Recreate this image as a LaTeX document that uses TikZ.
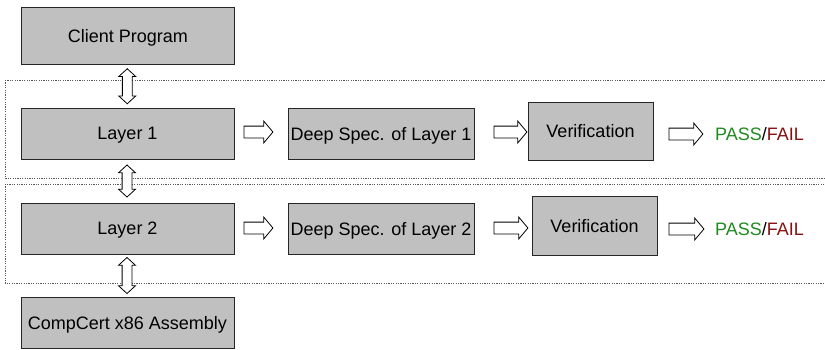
\documentclass[tikz,border=0pt]{standalone}
\usepackage{fontspec}
\setmainfont{Liberation Sans}
\usetikzlibrary{shapes.arrows,calc}
\definecolor{boxfill}{HTML}{C0C0C0}
\definecolor{passgreen}{HTML}{1F8A1F}
\definecolor{failred}{HTML}{851010}
\tikzset{
  box/.style={draw=black!85, line width=0.9pt, fill=boxfill, inner sep=0pt,
    text depth=0pt, font=\fontsize{18}{21}\selectfont},
  harrow/.style={single arrow, draw=black, fill=white, line width=0.8pt, inner sep=0pt,
    minimum width=21pt, single arrow head extend=5pt, single arrow tip angle=100,
    anchor=center},
  varrow/.style={double arrow, draw=black, fill=white, line width=0.8pt, inner sep=0pt,
    minimum width=16pt, double arrow head extend=3.5pt, double arrow tip angle=95,
    rotate=90, anchor=center},
  group/.style={draw=black!65, line width=0.8pt, dash pattern=on 1.2pt off 1.2pt},
  result/.style={anchor=west, inner sep=0pt, font=\fontsize{18}{21}\selectfont}
}
\newcommand{\hshaft}{\rule{0pt}{11pt}}
\newcommand{\vshaft}{\rule{0pt}{9pt}}
\begin{document}
\begin{tikzpicture}[x=1pt,y=-1pt]
\useasboundingbox (0,0) rectangle (825,349);
\clip (0,0) rectangle (825,349);
% groups
\draw[group] (5,80) rectangle (840,178);
\draw[group] (5,184) rectangle (840,283);
% boxes
\node[box, minimum width=213pt, minimum height=57pt] (client) at (128,36) {Client Program};
\node[box, minimum width=213pt, minimum height=51pt] (l1) at (127.5,133.5) {Layer 1};
\node[box, minimum width=186pt, minimum height=51pt] (d1) at (381,133.5) {Deep Spec. of Layer 1};
\node[box, minimum width=125pt, minimum height=58pt] (v1) at (590.5,131) {Verification};
\node[box, minimum width=213pt, minimum height=51pt] (l2) at (127.5,228.5) {Layer 2};
\node[box, minimum width=186pt, minimum height=51pt] (d2) at (381,228.5) {Deep Spec. of Layer 2};
\node[box, minimum width=125pt, minimum height=59pt] (v2) at (594.5,225.5) {Verification};
\node[box, minimum width=213pt, minimum height=51pt] (cc) at (127.5,322.5) {CompCert x86 Assembly};
% results
\node[result] (r1) at (715,134) {\textcolor{passgreen}{PASS}/\textcolor{failred}{FAIL}};
\node[result] (r2) at (715,229) {\textcolor{passgreen}{PASS}/\textcolor{failred}{FAIL}};
% horizontal arrows
\node[harrow, minimum height=29pt] (a11) at ($(l1.east)+(21.5,-1.5)$) {\hshaft};
\node[harrow, minimum height=33pt] (a12) at ($(d1.east)+(33.5,-1.5)$) {\hshaft};
\node[harrow, minimum height=34pt] (a13) at ($(v1.east)+(30,3)$) {\hshaft};
\node[harrow, minimum height=29pt] (a21) at ($(l2.east)+(21.5,-0.5)$) {\hshaft};
\node[harrow, minimum height=34pt] (a22) at ($(d2.east)+(34,-0.5)$) {\hshaft};
\node[harrow, minimum height=35pt] (a23) at ($(v2.east)+(26.5,3.5)$) {\hshaft};
% vertical double arrows
\node[varrow, minimum height=35pt] (b1) at ($(client.south)!0.5!(l1.north)+(-0.5,0)$) {\vshaft};
\node[varrow, minimum height=32pt] (b2) at ($(l1.south)!0.5!(l2.north)+(-0.5,0)$) {\vshaft};
\node[varrow, minimum height=36pt] (b3) at ($(l2.south)!0.5!(cc.north)+(-0.5,0)$) {\vshaft};
\end{tikzpicture}
\end{document}
